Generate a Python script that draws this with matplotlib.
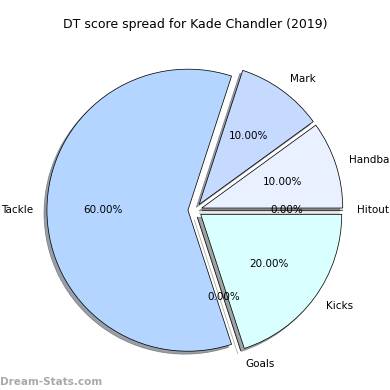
import numpy as np
import matplotlib.pyplot as plt

# DT score spread data
labels = ['Kicks', 'Hitout', 'Handball', 'Mark', 'Tackle', 'Goals']
values = [20, 0, 10, 10, 60, 0]
colours = ['#d9ffff', '#f2f2f2', '#e9f0ff', '#c6d9ff', '#b3d5ff', '#e6f7ff']
explode = [0.05] * len(values)

fig = plt.figure(figsize=(5.2, 5.2), dpi=75)
ax = fig.add_axes([0.048, 0.009, 0.904, 0.904])

ax.pie(values, labels=labels, colors=colours, explode=explode,
       autopct='%1.2f%%', shadow=True, startangle=-72,
       wedgeprops={'edgecolor': 'black', 'linewidth': 0.7},
       textprops={'fontsize': 10})
ax.set_xlim(-1.25, 1.25)
ax.set_ylim(-1.25, 1.25)
ax.set_aspect('equal')
ax.set_title('DT score spread for Kade Chandler (2019)', fontsize=12)

fig.text(0.0, 0.012, 'Dream-Stats.com', fontsize=10, color='#a0a0a0',
         fontweight='bold', alpha=0.9)

plt.savefig('out.png', dpi=75)
